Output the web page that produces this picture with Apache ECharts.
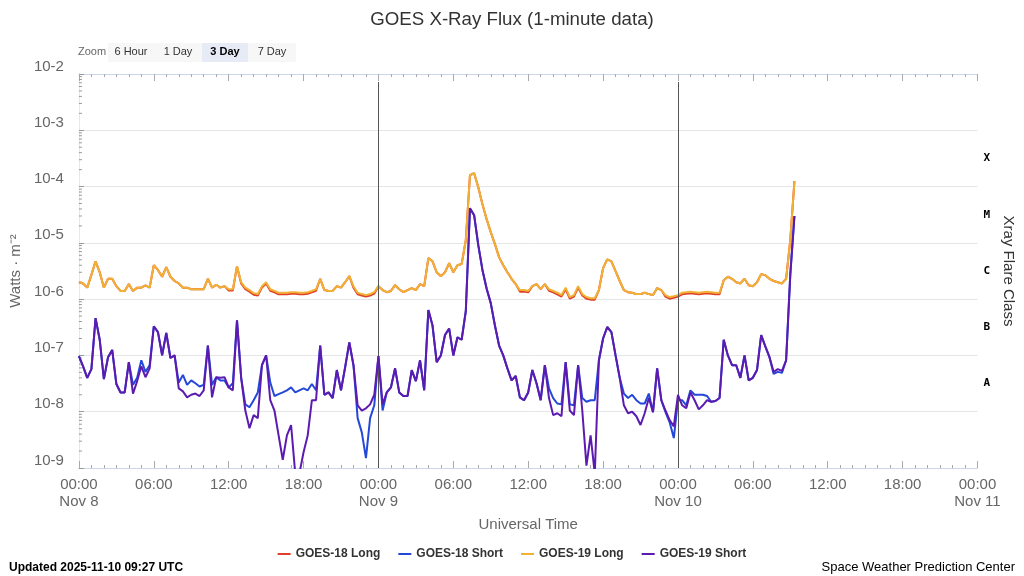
<!DOCTYPE html>
<html>
<head>
<meta charset="utf-8">
<title>GOES X-Ray Flux</title>
<script src="https://cdn.jsdelivr.net/npm/echarts@6/dist/echarts.min.js"></script>
<style>
html, body { margin: 0; padding: 0; background: #fff; }
#chart { width: 1024px; height: 576px; }
</style>
</head>
<body>
<div id="chart"></div>
<script>
// samples every 20 min from 2025-11-08 00:00 UTC, x axis in hours
const stepHours = 1 / 3;
const dayLabels = ['Nov 8', 'Nov 9', 'Nov 10', 'Nov 11'];
const dayBoundaries = [24, 48];
const flareClass = { '-7.5': 'A', '-6.5': 'B', '-5.5': 'C', '-4.5': 'M', '-3.5': 'X' };
const seriesNames = ['GOES-18 Long', 'GOES-18 Short', 'GOES-19 Long', 'GOES-19 Short'];
const seriesColors = ['#e0402a', '#2448d8', '#f2b134', '#5c1bb0'];

// W/m^2
const g19Long = [
  2.0e-6, 1.9e-6, 1.6e-6, 2.7e-6, 4.7e-6, 3.0e-6, 1.6e-6, 2.3e-6, 2.3e-6, 1.7e-6,
  1.4e-6, 1.4e-6, 1.85e-6, 1.4e-6, 1.6e-6, 1.6e-6, 1.75e-6, 1.6e-6, 4.0e-6, 3.3e-6,
  2.5e-6, 3.7e-6, 2.5e-6, 2.1e-6, 1.9e-6, 1.6e-6, 1.6e-6, 1.5e-6, 1.5e-6, 1.5e-6,
  1.5e-6, 2.3e-6, 1.6e-6, 1.8e-6, 1.6e-6, 1.7e-6, 1.5e-6, 1.5e-6, 3.85e-6, 2.0e-6,
  1.6e-6, 1.45e-6, 1.28e-6, 1.23e-6, 1.7e-6, 2.0e-6, 1.5e-6, 1.4e-6, 1.3e-6, 1.3e-6,
  1.3e-6, 1.33e-6, 1.33e-6, 1.3e-6, 1.3e-6, 1.33e-6, 1.4e-6, 1.5e-6, 2.3e-6, 1.45e-6,
  1.4e-6, 1.4e-6, 1.7e-6, 1.6e-6, 2.0e-6, 2.56e-6, 1.7e-6, 1.3e-6, 1.23e-6, 1.18e-6,
  1.23e-6, 1.33e-6, 1.7e-6, 1.45e-6, 1.33e-6, 1.4e-6, 1.77e-6, 1.5e-6, 1.33e-6, 1.45e-6,
  1.57e-6, 1.45e-6, 1.85e-6, 1.7e-6, 5.35e-6, 4.7e-6, 3.0e-6, 2.56e-6, 3.0e-6, 4.36e-6,
  3.0e-6, 4.0e-6, 4.2e-6, 1.12e-5, 1.59e-4, 1.73e-4, 9.75e-5, 4.86e-5, 2.64e-5, 1.55e-5,
  9.5e-6, 5.57e-6, 4.0e-6, 3.0e-6, 2.3e-6, 1.85e-6, 1.45e-6, 1.45e-6, 1.4e-6, 1.7e-6,
  1.85e-6, 1.5e-6, 1.85e-6, 1.5e-6, 1.4e-6, 1.3e-6, 1.18e-6, 1.6e-6, 1.09e-6, 1.18e-6,
  1.7e-6, 1.23e-6, 1.09e-6, 1.04e-6, 1.04e-6, 1.45e-6, 3.55e-6, 5.1e-6, 4.7e-6, 3.14e-6,
  2.1e-6, 1.45e-6, 1.33e-6, 1.3e-6, 1.23e-6, 1.23e-6, 1.3e-6, 1.23e-6, 1.18e-6, 1.57e-6,
  1.45e-6, 1.18e-6, 1.09e-6, 1.13e-6, 1.18e-6, 1.3e-6, 1.33e-6, 1.35e-6, 1.33e-6, 1.3e-6,
  1.33e-6, 1.35e-6, 1.33e-6, 1.3e-6, 1.3e-6, 2.17e-6, 2.5e-6, 2.3e-6, 2.0e-6, 1.9e-6,
  2.3e-6, 1.77e-6, 1.7e-6, 2.0e-6, 2.78e-6, 2.67e-6, 2.3e-6, 2.1e-6, 2.0e-6, 1.9e-6,
  2.3e-6, 1.12e-5, 1.25e-4
];

const g18Long = [
  2.0e-6, 1.9e-6, 1.6e-6, 2.7e-6, 4.7e-6, 3.0e-6, 1.6e-6, 2.3e-6, 2.3e-6, 1.7e-6,
  1.4e-6, 1.4e-6, 1.85e-6, 1.4e-6, 1.6e-6, 1.6e-6, 1.75e-6, 1.6e-6, 4.0e-6, 3.3e-6,
  2.5e-6, 3.7e-6, 2.5e-6, 2.1e-6, 1.9e-6, 1.6e-6, 1.6e-6, 1.5e-6, 1.5e-6, 1.5e-6,
  1.5e-6, 2.3e-6, 1.6e-6, 1.8e-6, 1.6e-6, 1.7e-6, 1.42e-6, 1.42e-6, 3.85e-6, 1.9e-6,
  1.5e-6, 1.36e-6, 1.2e-6, 1.16e-6, 1.6e-6, 1.9e-6, 1.41e-6, 1.32e-6, 1.22e-6, 1.22e-6,
  1.22e-6, 1.25e-6, 1.25e-6, 1.22e-6, 1.22e-6, 1.25e-6, 1.32e-6, 1.41e-6, 2.3e-6, 1.45e-6,
  1.4e-6, 1.4e-6, 1.7e-6, 1.6e-6, 2.0e-6, 2.56e-6, 1.6e-6, 1.22e-6, 1.16e-6, 1.11e-6,
  1.16e-6, 1.25e-6, 1.7e-6, 1.45e-6, 1.33e-6, 1.4e-6, 1.77e-6, 1.5e-6, 1.33e-6, 1.45e-6,
  1.57e-6, 1.45e-6, 1.85e-6, 1.7e-6, 5.35e-6, 4.7e-6, 3.0e-6, 2.56e-6, 3.0e-6, 4.36e-6,
  3.0e-6, 4.0e-6, 4.2e-6, 1.12e-5, 1.59e-4, 1.73e-4, 9.75e-5, 4.86e-5, 2.64e-5, 1.55e-5,
  9.5e-6, 5.57e-6, 4.0e-6, 3.0e-6, 2.3e-6, 1.85e-6, 1.36e-6, 1.36e-6, 1.32e-6, 1.7e-6,
  1.85e-6, 1.5e-6, 1.85e-6, 1.41e-6, 1.32e-6, 1.22e-6, 1.11e-6, 1.5e-6, 1.02e-6, 1.11e-6,
  1.6e-6, 1.16e-6, 1.02e-6, 0.98e-6, 0.98e-6, 1.45e-6, 3.55e-6, 5.1e-6, 4.7e-6, 3.14e-6,
  2.1e-6, 1.45e-6, 1.33e-6, 1.3e-6, 1.23e-6, 1.23e-6, 1.3e-6, 1.23e-6, 1.18e-6, 1.57e-6,
  1.45e-6, 1.11e-6, 1.02e-6, 1.06e-6, 1.11e-6, 1.22e-6, 1.25e-6, 1.27e-6, 1.25e-6, 1.22e-6,
  1.25e-6, 1.27e-6, 1.25e-6, 1.22e-6, 1.22e-6, 2.17e-6, 2.5e-6, 2.3e-6, 2.0e-6, 1.9e-6,
  2.3e-6, 1.77e-6, 1.7e-6, 2.0e-6, 2.78e-6, 2.67e-6, 2.3e-6, 2.1e-6, 2.0e-6, 1.9e-6,
  2.3e-6, 1.12e-5, 1.25e-4
];

const g19Short = [
  9.7e-8, 6.4e-8, 4.0e-8, 5.7e-8, 4.6e-7, 1.9e-7, 3.8e-8, 9.3e-8, 1.25e-7, 3.1e-8,
  2.2e-8, 2.2e-8, 7.6e-8, 2.1e-8, 3.5e-8, 6.4e-8, 4.1e-8, 5.9e-8, 3.3e-7, 2.6e-7,
  1.0e-7, 2.5e-7, 9.0e-8, 1.0e-7, 2.6e-8, 2.3e-8, 1.8e-8, 2.0e-8, 2.1e-8, 1.9e-8,
  2.4e-8, 1.5e-7, 1.8e-8, 4.1e-8, 4.0e-8, 4.1e-8, 2.7e-8, 2.4e-8, 4.2e-7, 4.0e-8,
  1.05e-8, 5.1e-9, 8.7e-9, 7.7e-9, 6.7e-8, 1.0e-7, 1.6e-8, 1.05e-8, 3.8e-9, 1.4e-9,
  3.8e-9, 5.8e-9, 8e-10, 8e-10, 1.9e-9, 3.8e-9, 1.6e-8, 1.6e-8, 1.5e-7, 2.0e-8,
  2.2e-8, 1.75e-8, 5.5e-8, 2.4e-8, 6.2e-8, 1.7e-7, 6.7e-8, 1.3e-8, 1.05e-8, 1.15e-8,
  1.35e-8, 2.0e-8, 9.7e-8, 1.35e-8, 2.2e-8, 2.7e-8, 5.9e-8, 2.2e-8, 1.9e-8, 1.9e-8,
  5.5e-8, 3.5e-8, 8.2e-8, 2.4e-8, 6.4e-7, 3.4e-7, 7.6e-8, 1.0e-7, 2.3e-7, 3.0e-7,
  1.0e-7, 2.1e-7, 1.9e-7, 6.1e-7, 4.1e-5, 3.1e-5, 9.1e-6, 3.3e-6, 1.55e-6, 8.5e-7,
  3.4e-7, 1.5e-7, 1.0e-7, 5.9e-8, 3.6e-8, 4.3e-8, 1.8e-8, 1.6e-8, 2.2e-8, 5.5e-8,
  3.2e-8, 1.6e-8, 6.7e-8, 1.75e-8, 8.7e-9, 9.4e-9, 8.3e-9, 7.6e-8, 1.05e-8, 8.7e-9,
  6.7e-8, 1.05e-8, 1.1e-9, 3.8e-9, 8e-10, 8.2e-8, 2.0e-7, 3.2e-7, 2.6e-7, 1.0e-7,
  4.0e-8, 1.3e-8, 9.4e-9, 1.0e-8, 8.3e-9, 5.8e-9, 9.4e-9, 1.75e-8, 9.8e-9, 5.9e-8,
  1.6e-8, 1.05e-8, 7.1e-9, 5.5e-9, 2.0e-8, 1.3e-8, 1.15e-8, 2.2e-8, 1.6e-8, 1.1e-8,
  1.3e-8, 1.6e-8, 1.5e-8, 1.55e-8, 1.75e-8, 1.9e-7, 1.0e-7, 6.7e-8, 6.7e-8, 4.0e-8,
  1.0e-7, 3.6e-8, 4.0e-8, 5.5e-8, 2.3e-7, 1.45e-7, 9.3e-8, 5.1e-8, 5.7e-8, 5.3e-8,
  8.2e-8, 2.7e-6, 3.0e-5
];

const g18Short = [
  9.7e-8, 6.4e-8, 4.0e-8, 5.7e-8, 4.6e-7, 1.9e-7, 3.8e-8, 9.3e-8, 1.25e-7, 3.1e-8,
  2.2e-8, 2.2e-8, 7.6e-8, 3.0e-8, 4.0e-8, 8.2e-8, 5.1e-8, 6.7e-8, 3.3e-7, 2.6e-7,
  1.0e-7, 2.5e-7, 9.0e-8, 1.0e-7, 3.3e-8, 4.5e-8, 3.0e-8, 3.6e-8, 3.2e-8, 2.8e-8,
  3.0e-8, 1.5e-7, 3.0e-8, 4.1e-8, 3.6e-8, 3.6e-8, 2.7e-8, 3.2e-8, 4.2e-7, 4.0e-8,
  1.35e-8, 1.2e-8, 1.6e-8, 2.2e-8, 6.7e-8, 1.0e-7, 3.3e-8, 1.9e-8, 2.05e-8, 2.2e-8,
  2.4e-8, 2.7e-8, 2.2e-8, 2.4e-8, 2.6e-8, 2.4e-8, 3.1e-8, 2.4e-8, 1.5e-7, 2.0e-8,
  2.2e-8, 1.75e-8, 5.5e-8, 2.4e-8, 6.2e-8, 1.7e-7, 6.7e-8, 7.7e-9, 4.3e-9, 1.5e-9,
  7.7e-9, 1.3e-8, 9.7e-8, 1.05e-8, 2.2e-8, 2.7e-8, 5.9e-8, 2.2e-8, 1.9e-8, 1.9e-8,
  5.5e-8, 3.5e-8, 8.2e-8, 2.4e-8, 6.4e-7, 3.4e-7, 7.6e-8, 1.0e-7, 2.3e-7, 3.0e-7,
  1.0e-7, 2.1e-7, 1.9e-7, 6.1e-7, 4.1e-5, 3.1e-5, 9.1e-6, 3.3e-6, 1.55e-6, 8.5e-7,
  3.4e-7, 1.5e-7, 1.0e-7, 5.9e-8, 3.6e-8, 4.3e-8, 1.8e-8, 1.6e-8, 2.2e-8, 5.5e-8,
  3.2e-8, 1.6e-8, 6.7e-8, 2.6e-8, 1.75e-8, 1.4e-8, 1.35e-8, 7.6e-8, 1.35e-8, 1.3e-8,
  6.7e-8, 1.75e-8, 1.5e-8, 1.6e-8, 1.6e-8, 8.2e-8, 2.0e-7, 3.2e-7, 2.6e-7, 1.0e-7,
  4.0e-8, 2.1e-8, 1.75e-8, 2.0e-8, 1.6e-8, 1.4e-8, 1.4e-8, 2.1e-8, 9.8e-9, 5.9e-8,
  1.6e-8, 9.8e-9, 6.5e-9, 3.4e-9, 1.6e-8, 1.6e-8, 1.3e-8, 2.4e-8, 2.0e-8, 2.0e-8,
  2.0e-8, 1.9e-8, 1.5e-8, 1.55e-8, 1.75e-8, 1.9e-7, 1.0e-7, 6.7e-8, 6.7e-8, 4.0e-8,
  1.0e-7, 3.6e-8, 4.0e-8, 5.5e-8, 2.3e-7, 1.45e-7, 9.3e-8, 4.7e-8, 5.1e-8, 4.9e-8,
  8.2e-8, 2.7e-6, 3.0e-5
];

const fontFamily = '"Liberation Sans", Arial, sans-serif';
const chart = echarts.init(document.getElementById('chart'));

const toPoints = (values) => values.map((v, i) => [i * stepHours, v]);

const hourLabel = (v) => {
  const h = v % 24;
  if (h === 0) return '00:00\n' + dayLabels[Math.round(v / 24)];
  return String(h).padStart(2, '0') + ':00';
};

// log-spaced minor ticks on the flux axis (2..9 x 10^k)
const minorTickData = [];
for (let k = -9; k < -2; k++) {
  for (let m = 2; m <= 9; m++) minorTickData.push([0, m * Math.pow(10, k)]);
}

const lineSeries = [g18Long, g18Short, g19Long, g19Short].map((vals, idx) => ({
  name: seriesNames[idx],
  type: 'line',
  xAxisIndex: 0,
  yAxisIndex: 0,
  data: toPoints(vals),
  showSymbol: false,
  symbol: 'none',
  sampling: false,
  clip: true,
  lineStyle: { width: 2, color: seriesColors[idx] },
  itemStyle: { color: seriesColors[idx] },
  emphasis: { disabled: true },
  z: 2 + idx
}));

lineSeries[0].markLine = {
  silent: true,
  symbol: 'none',
  label: { show: false },
  lineStyle: { color: '#555', width: 1, type: 'solid' },
  data: dayBoundaries.map(h => [{ coord: [h, 7.2e-3] }, { coord: [h, 1e-9] }])
};

const option = {
  animation: false,
  backgroundColor: '#fff',
  title: {
    text: 'GOES X-Ray Flux (1-minute data)',
    left: 'center',
    top: 5,
    textStyle: { fontFamily, fontSize: 18.7, fontWeight: 'normal', color: '#333' }
  },
  legend: {
    data: seriesNames,
    top: 543,
    left: 'center',
    icon: 'rect',
    itemWidth: 13,
    itemHeight: 2,
    itemGap: 18,
    textStyle: { fontFamily, fontSize: 12, fontWeight: 'bold', color: '#333' }
  },
  grid: { left: 78, right: 43, top: 74, bottom: 108 },
  xAxis: [{
    type: 'value',
    min: 0,
    max: 72,
    interval: 6,
    position: 'bottom',
    axisLine: { show: true, lineStyle: { color: '#ccd6eb' } },
    axisTick: { show: true, inside: true, length: 7, lineStyle: { color: '#aaa' } },
    minorTick: { show: true, splitNumber: 6, length: 3, lineStyle: { color: '#aaa' } },
    splitLine: { show: false },
    axisLabel: { formatter: hourLabel, color: '#666', fontSize: 15, lineHeight: 17, margin: 8, fontFamily },
    name: 'Universal Time',
    nameLocation: 'middle',
    nameGap: 49,
    nameTextStyle: { color: '#666', fontSize: 15, fontFamily }
  }, {
    type: 'value',
    min: 0,
    max: 72,
    interval: 6,
    position: 'top',
    axisLine: { show: true, lineStyle: { color: '#ccd6eb' } },
    axisTick: { show: true, inside: true, length: 7, lineStyle: { color: '#aaa' } },
    minorTick: { show: true, splitNumber: 6, length: 3, lineStyle: { color: '#aaa' } },
    splitLine: { show: false },
    axisLabel: { show: false }
  }],
  yAxis: [{
    type: 'log',
    logBase: 10,
    min: 1e-9,
    max: 1e-2,
    interval: 1,
    splitNumber: 7,
    position: 'left',
    axisLine: { show: true, lineStyle: { color: '#999' } },
    axisTick: { show: true, inside: true, length: 5, lineStyle: { color: '#999' } },
    splitLine: { show: true, lineStyle: { color: '#e6e6e6' } },
    axisLabel: {
      formatter: v => '10' + Math.round(Math.log10(v)),
      color: '#666', fontSize: 15, fontFamily, verticalAlign: 'bottom', margin: 15
    },
    name: 'Watts · m⁻²',
    nameLocation: 'middle',
    nameRotate: 90,
    nameGap: 47,
    nameTextStyle: { color: '#666', fontSize: 15, fontFamily }
  }, {
    type: 'value',
    min: -9,
    max: -2,
    interval: 0.5,
    position: 'right',
    axisLine: { show: true, lineStyle: { color: '#e3e9ef' } },
    axisTick: { show: false },
    splitLine: { show: false },
    axisLabel: {
      formatter: v => flareClass[String(v)] || '',
      color: '#000', fontSize: 11, fontWeight: 'bold', fontFamily: '"DejaVu Sans Mono", monospace',
      margin: 6, padding: [4, 0, 0, 0]
    },
    name: 'Xray Flare Class',
    nameLocation: 'middle',
    nameRotate: -90,
    nameGap: 20,
    nameTextStyle: { color: '#333', fontSize: 15, fontFamily }
  }],
  graphic: [
    { type: 'text', x: 78, y: 52, style: { text: 'Zoom', fill: '#666', font: '11px ' + fontFamily, textVerticalAlign: 'middle', verticalAlign: 'middle' } },
    { type: 'rect', shape: { x: 108, y: 43, width: 188, height: 19 }, style: { fill: '#f7f7f7' } },
    { type: 'rect', shape: { x: 202, y: 43, width: 46, height: 19 }, style: { fill: '#e6ebf5' } },
    { type: 'text', x: 131, y: 52, style: { text: '6 Hour', fill: '#333', font: '11px ' + fontFamily, textAlign: 'center', align: 'center', textVerticalAlign: 'middle', verticalAlign: 'middle' } },
    { type: 'text', x: 178, y: 52, style: { text: '1 Day', fill: '#333', font: '11px ' + fontFamily, textAlign: 'center', align: 'center', textVerticalAlign: 'middle', verticalAlign: 'middle' } },
    { type: 'text', x: 225, y: 52, style: { text: '3 Day', fill: '#000', font: 'bold 11px ' + fontFamily, textAlign: 'center', align: 'center', textVerticalAlign: 'middle', verticalAlign: 'middle' } },
    { type: 'text', x: 272, y: 52, style: { text: '7 Day', fill: '#333', font: '11px ' + fontFamily, textAlign: 'center', align: 'center', textVerticalAlign: 'middle', verticalAlign: 'middle' } },
    { type: 'text', x: 9, y: 568, style: { text: 'Updated 2025-11-10 09:27 UTC', fill: '#000', font: 'bold 12px ' + fontFamily, textVerticalAlign: 'middle', verticalAlign: 'middle' } },
    { type: 'text', x: 1015, y: 567, style: { text: 'Space Weather Prediction Center', fill: '#000', font: '13px ' + fontFamily, textAlign: 'right', align: 'right', textVerticalAlign: 'middle', verticalAlign: 'middle' } }
  ],
  series: lineSeries.concat([{
    type: 'custom',
    xAxisIndex: 0,
    yAxisIndex: 0,
    silent: true,
    clip: false,
    data: minorTickData,
    renderItem: (params, api) => {
      const p = api.coord([api.value(0), api.value(1)]);
      return {
        type: 'line',
        shape: { x1: p[0], y1: p[1], x2: p[0] + 3, y2: p[1] },
        style: { stroke: '#999', lineWidth: 1 }
      };
    },
    z: 1
  }])
};

chart.setOption(option);
</script>
</body>
</html>
